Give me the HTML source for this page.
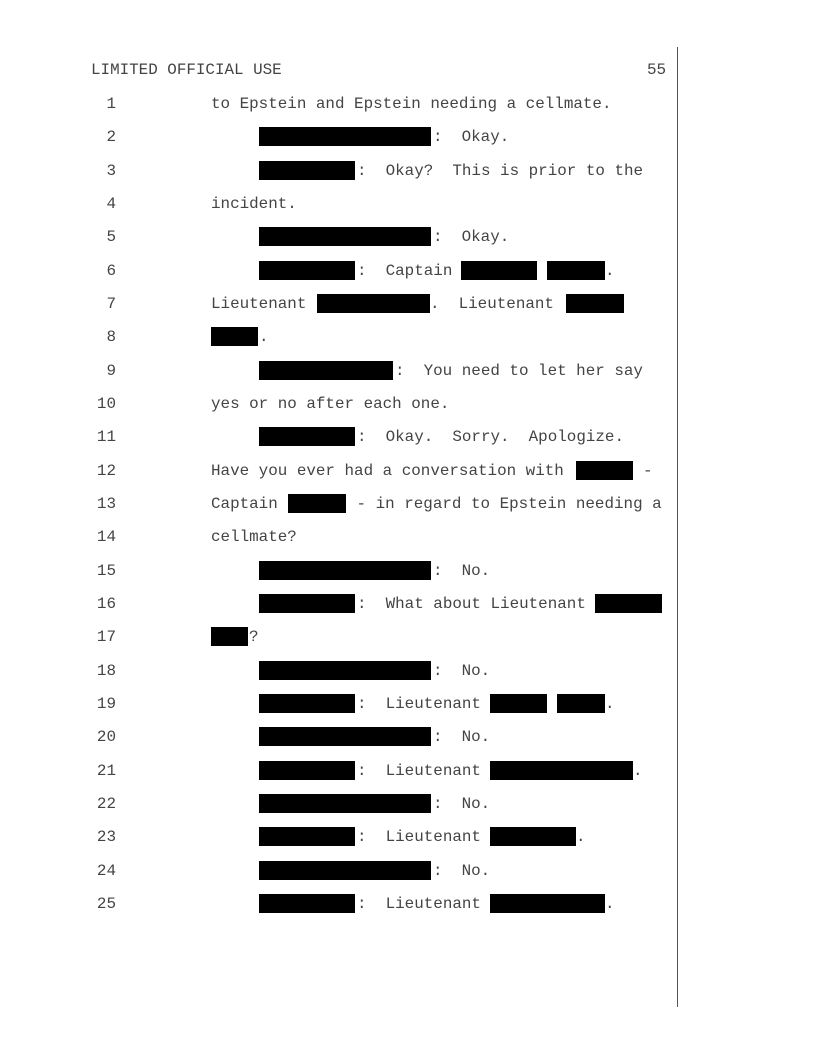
<!DOCTYPE html>
<html><head><meta charset="utf-8"><style>
body{margin:0;background:#fff;}
#p{position:relative;width:816px;height:1056px;overflow:hidden;font-family:"Liberation Mono",monospace;font-size:15.9px;color:#444;}
.l{position:absolute;left:0;width:816px;height:20px;line-height:20px;}
.l span{position:absolute;white-space:pre;top:0;}
.n{width:30px;text-align:right;left:86px;}
.b{position:absolute;background:#000;top:0px;height:19px;}
#v{position:absolute;left:677px;top:47px;width:1px;height:960px;background:#555;}
</style></head><body><div id="p">
<div id="v"></div>
<div class="l" style="top:60px"><span style="left:91px">LIMITED OFFICIAL USE</span><span style="left:647px">55</span></div>

<div class="l" style="top:94px"><span class="n">1</span><span style="left:211px">to Epstein and Epstein needing a cellmate.</span></div>
<div class="l" style="top:127.3px"><span class="n">2</span><div class="b" style="left:259px;width:172px"></div><span style="left:433px">:  Okay.</span></div>
<div class="l" style="top:160.7px"><span class="n">3</span><div class="b" style="left:259px;width:96px"></div><span style="left:357px">:  Okay?  This is prior to the</span></div>
<div class="l" style="top:194px"><span class="n">4</span><span style="left:211px">incident.</span></div>
<div class="l" style="top:227.3px"><span class="n">5</span><div class="b" style="left:259px;width:172px"></div><span style="left:433px">:  Okay.</span></div>
<div class="l" style="top:260.7px"><span class="n">6</span><div class="b" style="left:259px;width:96px"></div><span style="left:357px">:  Captain</span><div class="b" style="left:461px;width:76px"></div><div class="b" style="left:547px;width:58px"></div><span style="left:605px">.</span></div>
<div class="l" style="top:294px"><span class="n">7</span><span style="left:211px">Lieutenant</span><div class="b" style="left:317px;width:113px"></div><span style="left:430px">.  Lieutenant</span><div class="b" style="left:566px;width:58px"></div></div>
<div class="l" style="top:327.3px"><span class="n">8</span><div class="b" style="left:211px;width:47px"></div><span style="left:259px">.</span></div>
<div class="l" style="top:360.7px"><span class="n">9</span><div class="b" style="left:259px;width:134px"></div><span style="left:395px">:  You need to let her say</span></div>
<div class="l" style="top:394px"><span class="n">10</span><span style="left:211px">yes or no after each one.</span></div>
<div class="l" style="top:427.3px"><span class="n">11</span><div class="b" style="left:259px;width:96px"></div><span style="left:357px">:  Okay.  Sorry.  Apologize.</span></div>
<div class="l" style="top:460.7px"><span class="n">12</span><span style="left:211px">Have you ever had a conversation with</span><div class="b" style="left:576px;width:57px"></div><span style="left:643px">-</span></div>
<div class="l" style="top:494px"><span class="n">13</span><span style="left:211px">Captain</span><div class="b" style="left:288px;width:58px"></div><span style="left:347px"> - in regard to Epstein needing a</span></div>
<div class="l" style="top:527.3px"><span class="n">14</span><span style="left:211px">cellmate?</span></div>
<div class="l" style="top:560.7px"><span class="n">15</span><div class="b" style="left:259px;width:172px"></div><span style="left:433px">:  No.</span></div>
<div class="l" style="top:594px"><span class="n">16</span><div class="b" style="left:259px;width:96px"></div><span style="left:357px">:  What about Lieutenant</span><div class="b" style="left:595px;width:67px"></div></div>
<div class="l" style="top:627.3px"><span class="n">17</span><div class="b" style="left:211px;width:37px"></div><span style="left:249px">?</span></div>
<div class="l" style="top:660.7px"><span class="n">18</span><div class="b" style="left:259px;width:172px"></div><span style="left:433px">:  No.</span></div>
<div class="l" style="top:694px"><span class="n">19</span><div class="b" style="left:259px;width:96px"></div><span style="left:357px">:  Lieutenant</span><div class="b" style="left:490px;width:57px"></div><div class="b" style="left:557px;width:48px"></div><span style="left:605px">.</span></div>
<div class="l" style="top:727.3px"><span class="n">20</span><div class="b" style="left:259px;width:172px"></div><span style="left:433px">:  No.</span></div>
<div class="l" style="top:760.7px"><span class="n">21</span><div class="b" style="left:259px;width:96px"></div><span style="left:357px">:  Lieutenant</span><div class="b" style="left:490px;width:143px"></div><span style="left:633px">.</span></div>
<div class="l" style="top:794px"><span class="n">22</span><div class="b" style="left:259px;width:172px"></div><span style="left:433px">:  No.</span></div>
<div class="l" style="top:827.3px"><span class="n">23</span><div class="b" style="left:259px;width:96px"></div><span style="left:357px">:  Lieutenant</span><div class="b" style="left:490px;width:86px"></div><span style="left:576px">.</span></div>
<div class="l" style="top:860.7px"><span class="n">24</span><div class="b" style="left:259px;width:172px"></div><span style="left:433px">:  No.</span></div>
<div class="l" style="top:894px"><span class="n">25</span><div class="b" style="left:259px;width:96px"></div><span style="left:357px">:  Lieutenant</span><div class="b" style="left:490px;width:115px"></div><span style="left:605px">.</span></div>
</div></body></html>
